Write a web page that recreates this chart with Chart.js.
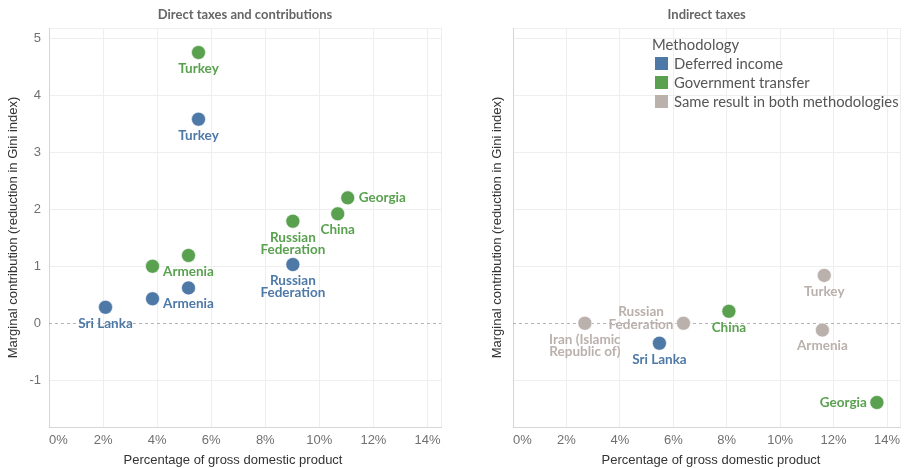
<!DOCTYPE html>
<html><head><meta charset="utf-8">
<script src="https://cdn.jsdelivr.net/npm/chart.js@4"></script>
<style>
html,body{margin:0;padding:0;background:#fff}
body{width:908px;height:468px;overflow:hidden;position:relative}
.panel{position:absolute;top:0;width:454px;height:468px}
#legend{position:absolute;left:652px;top:35px;color:#555;font:14.8px Lato,"Liberation Sans",sans-serif;line-height:19px}
#legend .row{display:flex;align-items:center;height:19px;white-space:nowrap}
#legend .sw{width:13px;height:13px;margin-left:3px;margin-right:6px}
</style>
</head><body>
<div class="panel" style="left:0"><canvas id="c1" width="454" height="468"></canvas></div>
<div class="panel" style="left:454px"><canvas id="c2" width="454" height="468"></canvas></div>
<div id="legend"></div>
<script>
// ---------- data ----------
const xTicks = [0, 2, 4, 6, 8, 10, 12, 14];
const yTicks = [-1, 0, 1, 2, 3, 4, 5];
const seriesNames = ['Deferred income', 'Government transfer', 'Same result in both methodologies'];
const panelTitles = ['Direct taxes and contributions', 'Indirect taxes'];
const xTitle = 'Percentage of gross domestic product';
const yTitle = 'Marginal contribution (reduction in Gini index)';
const legendTitle = 'Methodology';

// Direct taxes and contributions
const directDeferredX = [5.53, 9.02, 5.16, 3.83, 2.09];
const directDeferredY = [3.58, 1.03, 0.62, 0.43, 0.28];
const directDeferredLabels = ['Turkey', 'Russian\nFederation', 'Armenia', '', 'Sri Lanka'];
const directTransferX = [5.53, 11.05, 10.68, 9.02, 5.16, 3.83];
const directTransferY = [4.75, 2.20, 1.92, 1.79, 1.19, 1.00];
const directTransferLabels = ['Turkey', 'Georgia', 'China', 'Russian\nFederation', 'Armenia', ''];
const directSameX = [];
const directSameY = [];
const directSameLabels = [];

// Indirect taxes
const indirectDeferredX = [5.48];
const indirectDeferredY = [-0.35];
const indirectDeferredLabels = ['Sri Lanka'];
const indirectTransferX = [8.08, 13.62];
const indirectTransferY = [0.21, -1.39];
const indirectTransferLabels = ['China', 'Georgia'];
const indirectSameX = [11.65, 11.58, 6.38, 2.69];
const indirectSameY = [0.84, -0.12, 0.00, 0.00];
const indirectSameLabels = ['Turkey', 'Armenia', 'Russian\nFederation', 'Iran (Islamic\nRepublic of)'];

// ---------- styling ----------
const colors = ['#4e79a7', '#59a14f', '#bab0ac'];
const X_MIN = 0, X_MAX = 14.5, Y_MIN = -1.82, Y_MAX = 5.18;
const labelFont = 'bold 13.5px Lato, "Liberation Sans", sans-serif';
const tickFont = {family: '"Liberation Sans", Arial, sans-serif', size: 13};

function pts(xs, ys) { return xs.map((x, i) => ({x: x, y: ys[i]})); }

const legend = document.getElementById('legend');
legend.innerHTML = '<div class="row">' + legendTitle + '</div>' +
  seriesNames.map((n, i) => '<div class="row"><span class="sw" style="background:' + colors[i] + '"></span>' + n + '</div>').join('');

const pointLabelPlugin = {
  id: 'pointLabelPlugin',
  afterDatasetsDraw(chart, args, opts) {
    const ctx = chart.ctx;
    ctx.save();
    ctx.font = labelFont;
    ctx.textBaseline = 'middle';
    ctx.textAlign = 'center';
    chart.data.datasets.forEach((ds, di) => {
      const meta = chart.getDatasetMeta(di);
      (ds.pointLabels || []).forEach((txt, i) => {
        if (!txt) return;
        const el = meta.data[i];
        const lines = txt.split('\n');
        const place = (opts.places || {})[txt] || {side: 'below'};
        const lh = 12.5;
        ctx.fillStyle = ds.backgroundColor;
        if (place.side === 'below') {
          lines.forEach((l, k) => ctx.fillText(l, el.x, el.y + 16 + k * lh));
        } else {
          const w = Math.max(...lines.map(l => ctx.measureText(l).width));
          const cx = place.side === 'right' ? el.x + 11 + w / 2 : el.x - 10 - w / 2;
          const dy = place.dy || 0;
          lines.forEach((l, k) => ctx.fillText(l, cx, el.y + dy + (k - (lines.length - 1) / 2) * lh));
        }
      });
    });
    ctx.restore();
  }
};

const zeroLinePlugin = {
  id: 'zeroLinePlugin',
  beforeDatasetsDraw(chart) {
    const {ctx, chartArea, scales} = chart;
    const y = Math.round(scales.y.getPixelForValue(0)) + 0.5;
    ctx.save();
    ctx.strokeStyle = '#b4b4b4';
    ctx.lineWidth = 1;
    ctx.setLineDash([3, 3]);
    ctx.beginPath();
    ctx.moveTo(chartArea.left, y);
    ctx.lineTo(chartArea.right, y);
    ctx.stroke();
    ctx.restore();
  }
};

const xTitlePlugin = {
  id: 'xTitlePlugin',
  afterDraw(chart, args, opts) {
    const ctx = chart.ctx;
    ctx.save();
    ctx.font = '13px "Liberation Sans", Arial, sans-serif';
    ctx.fillStyle = '#333';
    ctx.textAlign = 'center';
    ctx.textBaseline = 'middle';
    ctx.fillText(xTitle, opts.x, 460);
    ctx.restore();
  }
};

function makeChart(id, title, sets, opts) {
  const datasets = sets.map((s, i) => ({
    label: seriesNames[i],
    data: pts(s[0], s[1]),
    pointLabels: s[2],
    backgroundColor: colors[i],
    borderColor: '#ffffff',
    borderWidth: 0.6,
    pointRadius: 7,
    pointHoverRadius: 7
  }));
  return new Chart(document.getElementById(id), {
    type: 'scatter',
    data: {datasets: datasets},
    plugins: [zeroLinePlugin, pointLabelPlugin, xTitlePlugin],
    options: {
      responsive: false,
      animation: false,
      devicePixelRatio: 1,
      layout: {padding: {left: 0, right: opts.padRight, top: 0, bottom: 0}},
      plugins: {
        legend: {display: false},
        tooltip: {enabled: false},
        title: {
          display: true, text: title, fullSize: false, color: '#666',
          font: {family: 'Lato, "Liberation Sans", sans-serif', size: 13, weight: 'bold', lineHeight: 1.2},
          padding: {top: 7, bottom: 5.4}
        },
        pointLabelPlugin: {places: opts.places},
        xTitlePlugin: {x: opts.xTitleX}
      },
      scales: {
        x: {
          type: 'linear', min: X_MIN, max: X_MAX,
          afterBuildTicks: s => { s.ticks = xTicks.concat([X_MAX]).map(v => ({value: v})); },
          afterFit: s => { s.height = 41; },
          ticks: {
            callback: v => xTicks.includes(v) ? v + '%' : '',
            align: 'inner', maxRotation: 0, autoSkip: false, padding: 6,
            color: '#707070', font: tickFont
          },
          grid: {color: '#eeeeee', drawTicks: false},
          border: {color: '#d6d6d6', width: 1},
          title: {display: false}
        },
        y: {
          type: 'linear', min: Y_MIN, max: Y_MAX,
          afterBuildTicks: s => { s.ticks = [Y_MIN].concat(yTicks, [Y_MAX]).map(v => ({value: v})); },
          afterFit: s => { s.width = opts.yWidth; },
          ticks: {
            display: opts.yTicksShown,
            callback: v => yTicks.includes(v) ? String(v) : '',
            padding: 8, color: '#707070', font: tickFont, autoSkip: false
          },
          grid: {
            color: c => (c.tick && c.tick.value === 0) ? 'rgba(0,0,0,0)' : '#eeeeee',
            drawTicks: false
          },
          border: {color: '#d6d6d6', width: 1},
          title: {
            display: true, text: yTitle, color: '#333',
            font: {family: '"Liberation Sans", Arial, sans-serif', size: 13},
            padding: {top: opts.yTitlePad, bottom: 0}
          }
        }
      }
    }
  });
}

makeChart('c1', panelTitles[0], [
  [directDeferredX, directDeferredY, directDeferredLabels],
  [directTransferX, directTransferY, directTransferLabels],
  [directSameX, directSameY, directSameLabels]
], {padRight: 13, yWidth: 49, yTicksShown: true, yTitlePad: 5.5, xTitleX: 233,
    places: {'Georgia': {side: 'right'}}});

makeChart('c2', panelTitles[1], [
  [indirectDeferredX, indirectDeferredY, indirectDeferredLabels],
  [indirectTransferX, indirectTransferY, indirectTransferLabels],
  [indirectSameX, indirectSameY, indirectSameLabels]
], {padRight: 3, yWidth: 59, yTicksShown: false, yTitlePad: 35.5, xTitleX: 257,
    places: {'Georgia': {side: 'left'}, 'Russian\nFederation': {side: 'left', dy: -5}}});
</script>
</body></html>
